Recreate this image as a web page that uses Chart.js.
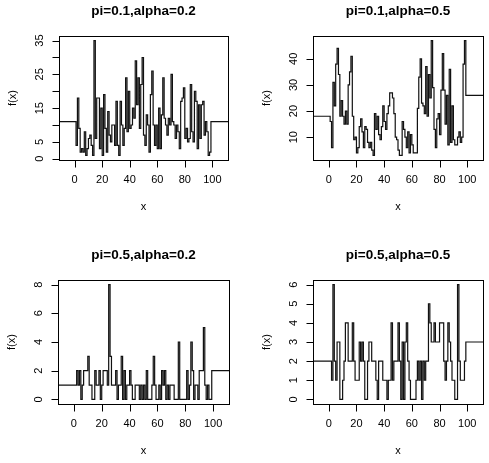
<!DOCTYPE html>
<html>
<head>
<meta charset="utf-8">
<script src="https://cdn.jsdelivr.net/npm/chart.js@4.4.1/dist/chart.umd.min.js"></script>
<style>
  body { margin: 0; background: #fff; }
  canvas { position: absolute; left: 0; top: 0; }
</style>
</head>
<body>
<canvas id="c1" width="489" height="463"></canvas>
<canvas id="c2" width="489" height="463"></canvas>
<canvas id="c3" width="489" height="463"></canvas>
<canvas id="c4" width="489" height="463"></canvas>
<script>
// step values on [k, k+1) for k = 1..98, plus the flat parts outside
const titles = ["pi=0.1,alpha=0.2", "pi=0.1,alpha=0.5", "pi=0.5,alpha=0.2", "pi=0.5,alpha=0.5"];
const xTicks = [0, 20, 40, 60, 80, 100];

const left1 = 11, right1 = 11;
const vals1 = [4,18,9,2,3,2,8,1,3,6,7,4,1,35,6,18,18,3,15,1,
               19,9,2,14,7,5,10,10,4,17,4,1,17,10,4,9,24,8,20,9,
               10,15,12,29,16,24,9,22,30,7,4,13,10,2,19,26,10,4,10,3,
               15,3,13,24,12,10,7,12,10,25,11,10,6,10,8,3,17,18,21,6,
               9,5,6,22,8,5,20,17,3,16,6,16,17,7,11,8,1,2];
const yTicks1 = [0, 5, 10, 15, 20, 25, 30, 35];
const yLabels1 = ["0", "5", "", "15", "", "25", "", "35"];

const left2 = 18, right2 = 26;
const vals2 = [16,6,31,22,38,44,34,18,24,18,15,20,15,30,35,41,18,9,10,4,
               6,14,17,12,6,14,13,8,6,8,5,3,19,13,18,11,9,14,22,16,
               13,19,22,27,27,25,19,10,9,5,3,3,16,13,10,6,12,4,11,7,
               4,4,4,21,33,40,23,22,19,37,18,34,25,47,29,13,6,17,19,11,
               28,42,28,15,26,7,36,8,22,9,7,7,10,12,8,10,38,47];
const yTicks2 = [10, 20, 30, 40];
const yLabels2 = ["10", "20", "30", "40"];

const left3 = 1, right3 = 2;
const vals3 = [1,2,1,2,0,1,2,2,2,3,1,1,0,0,2,1,1,2,0,1,
               2,2,2,1,8,3,1,1,1,2,0,1,1,3,0,2,0,1,1,2,
               1,0,0,1,1,1,0,1,0,1,0,2,0,0,0,1,3,1,0,0,
               1,0,2,1,2,0,1,0,1,1,1,0,0,0,4,0,0,0,0,0,
               2,0,1,4,2,0,1,1,0,2,2,2,5,1,0,1,0,0];
const yTicks3 = [0, 2, 4, 6, 8];
const yLabels3 = ["0", "2", "4", "6", "8"];

const left4 = 2, right4 = 3;
const vals4 = [2,1,6,2,1,3,3,0,0,1,2,4,4,2,2,2,4,2,1,1,
               1,3,2,3,2,0,0,2,3,3,2,2,2,1,0,2,2,2,1,1,
               1,0,1,1,4,1,2,2,2,4,2,0,3,0,3,4,2,1,0,0,
               0,0,1,2,1,2,0,2,1,2,2,5,4,3,3,4,3,3,3,4,
               4,4,2,1,2,4,3,2,1,1,0,0,6,2,1,1,1,2];
const yTicks4 = [0, 1, 2, 3, 4, 5, 6];
const yLabels4 = ["0", "1", "2", "3", "4", "5", "6"];

const X_MIN = -11.39, X_MAX = 111.39;

// R style box, axes and labels drawn from the chart's own scales
const rAxes = {
    id: 'rAxes',
    afterDraw: function (chart, args, opts) {
        const ctx = chart.ctx;
        const a = chart.chartArea;
        const xs = chart.scales.x;
        const ys = chart.scales.y;
        ctx.save();
        ctx.strokeStyle = '#000';
        ctx.fillStyle = '#000';
        ctx.lineWidth = 1;

        // box
        ctx.strokeRect(Math.round(a.left) + 0.5, Math.round(a.top) + 0.5,
                       Math.round(a.right - a.left), Math.round(a.bottom - a.top));

        // x axis
        const by = Math.round(a.bottom) + 0.5;
        ctx.beginPath();
        ctx.moveTo(Math.round(xs.getPixelForValue(xTicks[0])) + 0.5, by);
        ctx.lineTo(Math.round(xs.getPixelForValue(xTicks[xTicks.length - 1])) + 0.5, by);
        xTicks.forEach(t => {
            const px = Math.round(xs.getPixelForValue(t)) + 0.5;
            ctx.moveTo(px, by);
            ctx.lineTo(px, by + 7);
        });
        ctx.stroke();
        ctx.font = '11px "Liberation Sans", Arial, sans-serif';
        ctx.textAlign = 'center';
        ctx.textBaseline = 'middle';
        xTicks.forEach(t => ctx.fillText(String(t), xs.getPixelForValue(t), a.bottom + 20));
        ctx.fillText('x', (a.left + a.right) / 2, a.bottom + 47);

        // y axis
        const bx = Math.round(a.left) + 0.5;
        ctx.beginPath();
        ctx.moveTo(bx, Math.round(ys.getPixelForValue(opts.ticks[0])) + 0.5);
        ctx.lineTo(bx, Math.round(ys.getPixelForValue(opts.ticks[opts.ticks.length - 1])) + 0.5);
        opts.ticks.forEach(t => {
            const py = Math.round(ys.getPixelForValue(t)) + 0.5;
            ctx.moveTo(bx, py);
            ctx.lineTo(bx - 7, py);
        });
        ctx.stroke();
        opts.ticks.forEach((t, i) => {
            if (!opts.labels[i]) return;
            ctx.save();
            ctx.translate(a.left - 19, ys.getPixelForValue(t));
            ctx.rotate(-Math.PI / 2);
            ctx.fillText(opts.labels[i], 0, 0);
            ctx.restore();
        });
        ctx.save();
        ctx.translate(a.left - 46, (a.top + a.bottom) / 2);
        ctx.rotate(-Math.PI / 2);
        ctx.fillText('f(x)', 0, 0);
        ctx.restore();

        // title
        ctx.font = 'bold 13.5px "Liberation Sans", Arial, sans-serif';
        ctx.fillText(opts.title, (a.left + a.right) / 2, a.top - 25);
        ctx.restore();
    }
};

function stepPoints(left, vals, right) {
    const pts = [{x: X_MIN, y: left}];
    vals.forEach((v, i) => pts.push({x: i + 1, y: v}));
    pts.push({x: 99, y: right});
    pts.push({x: X_MAX, y: right});
    return pts;
}

function makePanel(id, box, left, vals, right, yMin, yMax, ticks, labels, title) {
    const ctx = document.getElementById(id).getContext('2d');
    return new Chart(ctx, {
        type: 'line',
        data: {
            datasets: [{
                data: stepPoints(left, vals, right),
                stepped: 'before',
                borderColor: '#111',
                borderWidth: 1.2,
                pointRadius: 0,
                fill: false
            }]
        },
        options: {
            responsive: false,
            animation: false,
            events: [],
            layout: {
                padding: {left: box[0], top: box[2], right: 489 - box[1], bottom: 463 - box[3]}
            },
            plugins: {
                legend: {display: false},
                tooltip: {enabled: false},
                rAxes: {ticks: ticks, labels: labels, title: title}
            },
            scales: {
                x: {type: 'linear', min: X_MIN, max: X_MAX, display: false},
                y: {type: 'linear', min: yMin, max: yMax, display: false}
            }
        },
        plugins: [rAxes]
    });
}

makePanel('c1', [59, 228, 36, 160], left1, vals1, right1, -0.36, 36.36, yTicks1, yLabels1, titles[0]);
makePanel('c2', [313, 483, 36, 160], left2, vals2, right2, 1.24, 48.76, yTicks2, yLabels2, titles[1]);
makePanel('c3', [58, 229, 280, 404], left3, vals3, right3, -0.32, 8.32, yTicks3, yLabels3, titles[2]);
makePanel('c4', [313, 483, 280, 404], left4, vals4, right4, -0.24, 6.24, yTicks4, yLabels4, titles[3]);
</script>
</body>
</html>
